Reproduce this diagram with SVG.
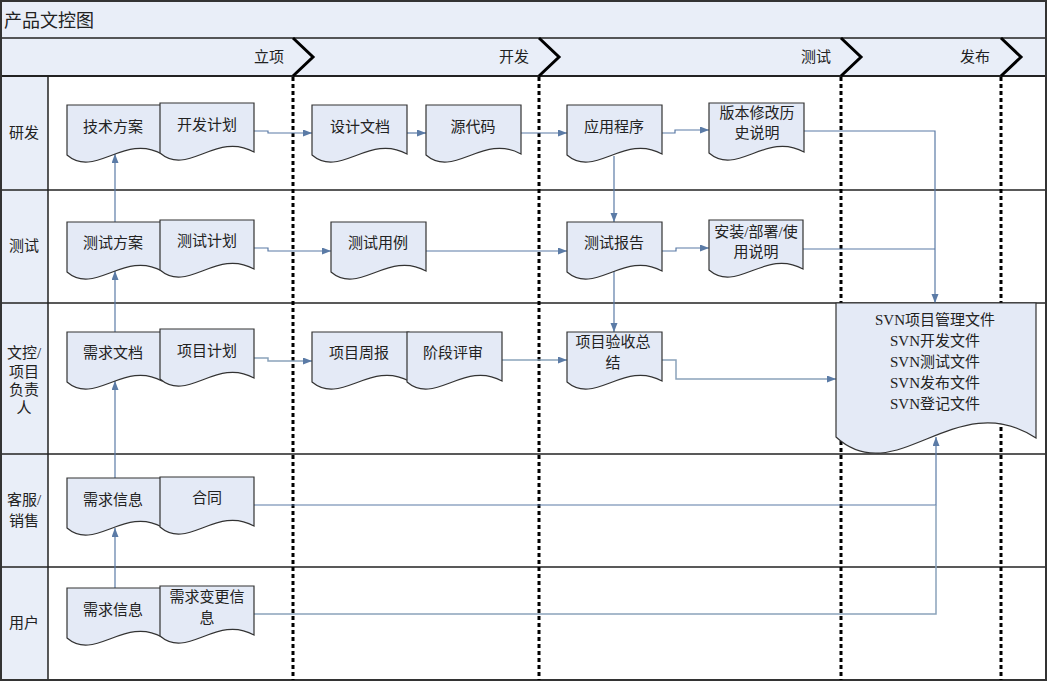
<svg xmlns="http://www.w3.org/2000/svg" width="1048" height="683" viewBox="0 0 1048 683">
<style>
.t{font-family:"Liberation Serif","Noto Sans CJK SC",serif;font-size:15px;fill:#222;text-anchor:middle}
.lt{font-family:"Liberation Serif","Noto Sans CJK SC",serif;font-size:15px;fill:#222;text-anchor:middle}
.ph{font-family:"Liberation Serif","Noto Sans CJK SC",serif;font-size:15px;fill:#222;text-anchor:end}
.doc{fill:#e4eaf6;stroke:#333;stroke-width:1.2}
.band{fill:#e9eef8}
.sep{stroke:#222;stroke-width:1.5;fill:none}
.chev{stroke:#000;stroke-width:3;fill:none}
.dot{stroke:#000;stroke-width:3;stroke-dasharray:4 3;fill:none}
.c{stroke:#5b7ba6;stroke-width:1.2;fill:none}
.c2{stroke:#8aa3ba;stroke-width:1.5;fill:none}
</style>
<defs>
<marker id="ar" markerUnits="userSpaceOnUse" markerWidth="10" markerHeight="8" refX="9" refY="3.5" orient="auto">
<path d="M0,0 L9,3.5 L0,7 z" fill="#5b7ba6"/>
</marker>
</defs>
<g id="frame">
<rect x="1" y="1" width="1045" height="679" fill="#fff"/>
<rect class="band" x="1" y="1" width="1045" height="37"/>
<rect class="band" x="1" y="38" width="1045" height="38"/>
<rect class="band" x="1" y="76" width="47" height="604"/>
<line class="sep" x1="1" y1="38" x2="1046" y2="38"/>
<line class="sep" x1="1" y1="76" x2="1046" y2="76" style="stroke-width:2"/>
<line class="sep" x1="48" y1="76" x2="48" y2="680"/>
<line class="sep" x1="1" y1="190" x2="1046" y2="190"/>
<line class="sep" x1="1" y1="303" x2="1046" y2="303"/>
<line class="sep" x1="1" y1="454" x2="1046" y2="454"/>
<line class="sep" x1="1" y1="567" x2="1046" y2="567"/>
<rect x="1" y="1" width="1045" height="679" fill="none" stroke="#333" stroke-width="2"/>
<text x="4" y="27" style="font-family:'Liberation Serif','Noto Sans CJK SC',serif;font-size:18px;fill:#222">产品文控图</text>
</g>
<g id="phases">
<polyline class="chev" points="293,38 313,57 293,76"/>
<polyline class="chev" points="539,38 559,57 539,76"/>
<polyline class="chev" points="841,38 861,57 841,76"/>
<polyline class="chev" points="1001,38 1021,57 1001,76"/>
<text class="ph" x="284" y="62">立项</text>
<text class="ph" x="529" y="62">开发</text>
<text class="ph" x="831" y="62">测试</text>
<text class="ph" x="990" y="62">发布</text>
<line class="dot" x1="293" y1="77" x2="293" y2="680"/>
<line class="dot" x1="539" y1="77" x2="539" y2="680"/>
<line class="dot" x1="841" y1="77" x2="841" y2="680"/>
<line class="dot" x1="1001" y1="77" x2="1001" y2="680"/>
</g>
<g id="lanes">
<text class="lt" x="24" y="138">研发</text>
<text class="lt" x="24" y="251">测试</text>
<text class="lt" x="24" y="358">文控/</text>
<text class="lt" x="24" y="377">项目</text>
<text class="lt" x="24" y="395">负责</text>
<text class="lt" x="24" y="413">人</text>
<text class="lt" x="24" y="505">客服/</text>
<text class="lt" x="24" y="526">销售</text>
<text class="lt" x="24" y="628">用户</text>
</g>
<g id="connectors">
<path class="c" d="M254,131 H268 V133 H312" marker-end="url(#ar)"/>
<path class="c" d="M407,133 H426" marker-end="url(#ar)"/>
<path class="c" d="M521,133 H567" marker-end="url(#ar)"/>
<path class="c" d="M662,133 H675 V130 H709" marker-end="url(#ar)"/>
<path class="c" d="M804,131 H935 V303" marker-end="url(#ar)"/>
<path class="c" d="M614,156 V222" marker-end="url(#ar)"/>
<path class="c" d="M115,222 V154" marker-end="url(#ar)"/>
<path class="c" d="M254,248 H268 V251 H331" marker-end="url(#ar)"/>
<path class="c" d="M426,251 H567" marker-end="url(#ar)"/>
<path class="c" d="M662,251 H676 V248 H709" marker-end="url(#ar)"/>
<path class="c" d="M803,249 H935"/>
<path class="c" d="M614,271 V332" marker-end="url(#ar)"/>
<path class="c" d="M115,332 V271" marker-end="url(#ar)"/>
<path class="c2" d="M254,358 H268 V361 H312" marker-end="url(#ar)"/>
<path class="c2" d="M502,360 H567" marker-end="url(#ar)"/>
<path class="c2" d="M662,360 H676 V379 H836" marker-end="url(#ar)"/>
<path class="c" d="M115,478 V381" marker-end="url(#ar)"/>
<path class="c" d="M254,505 H936 V437" marker-end="url(#ar)"/>
<path class="c2" d="M254,614 H936 V505"/>
<path class="c" d="M115,588 V528" marker-end="url(#ar)"/>
</g>
<g id="n-jishufangan"><path class="doc" d="M67,105 H162 V154 C124,133 95,179 67,155 Z"/><text class="t" x="113" y="132">技术方案</text></g>
<g id="n-kaifajihua"><path class="doc" d="M160,103 H254 V152 C216,131 188,177 160,153 Z"/><text class="t" x="207" y="130">开发计划</text></g>
<g id="n-shejiwendang"><path class="doc" d="M312,105 H407 V154 C369,133 340,179 312,155 Z"/><text class="t" x="360" y="132">设计文档</text></g>
<g id="n-yuandaima"><path class="doc" d="M426,105 H521 V154 C483,133 454,179 426,155 Z"/><text class="t" x="473" y="132">源代码</text></g>
<g id="n-yingyongchengxu"><path class="doc" d="M567,105 H662 V154 C624,133 595,179 567,155 Z"/><text class="t" x="614" y="132">应用程序</text></g>
<g id="n-banben"><path class="doc" d="M709,103 H804 V152 C766,131 737,177 709,153 Z"/><text class="t" x="757" y="118">版本修改历</text><text class="t" x="757" y="138">史说明</text></g>
<g id="n-ceshifangan"><path class="doc" d="M67,222 H162 V271 C124,250 95,296 67,272 Z"/><text class="t" x="113" y="248">测试方案</text></g>
<g id="n-ceshijihua"><path class="doc" d="M160,220 H254 V269 C216,248 188,294 160,270 Z"/><text class="t" x="207" y="246">测试计划</text></g>
<g id="n-ceshiyongli"><path class="doc" d="M331,222 H426 V271 C388,250 359,296 331,272 Z"/><text class="t" x="378" y="248">测试用例</text></g>
<g id="n-ceshibaogao"><path class="doc" d="M567,222 H662 V271 C624,250 595,296 567,272 Z"/><text class="t" x="614" y="248">测试报告</text></g>
<g id="n-anzhuang"><path class="doc" d="M709,220 H803 V269 C765,248 737,294 709,270 Z"/><text class="t" x="756" y="237">安装/部署/使</text><text class="t" x="756" y="257">用说明</text></g>
<g id="n-xuqiuwendang"><path class="doc" d="M67,332 H162 V381 C124,360 95,406 67,382 Z"/><text class="t" x="113" y="358">需求文档</text></g>
<g id="n-xiangmujihua"><path class="doc" d="M160,329 H254 V378 C216,357 188,403 160,379 Z"/><text class="t" x="207" y="356">项目计划</text></g>
<g id="n-xiangmuzhoubao"><path class="doc" d="M312,332 H409 V381 C370,360 341,406 312,382 Z"/><text class="t" x="359" y="358">项目周报</text></g>
<g id="n-jieduanpingshen"><path class="doc" d="M407,332 H502 V381 C464,360 435,406 407,382 Z"/><text class="t" x="453" y="358">阶段评审</text></g>
<g id="n-yanshou"><path class="doc" d="M567,332 H662 V381 C624,360 595,406 567,382 Z"/><text class="t" x="613" y="347">项目验收总</text><text class="t" x="613" y="368">结</text></g>
<g id="n-svn"><path class="doc" d="M836,303 H1036 V438 C956,385 896,492 836,437 Z"/>
<text class="t" x="935" y="325">SVN项目管理文件</text>
<text class="t" x="935" y="346">SVN开发文件</text>
<text class="t" x="935" y="367">SVN测试文件</text>
<text class="t" x="935" y="388">SVN发布文件</text>
<text class="t" x="935" y="409">SVN登记文件</text></g>
<g id="n-xuqiuxinxi-kf"><path class="doc" d="M67,478 H162 V527 C124,506 95,552 67,528 Z"/><text class="t" x="113" y="505">需求信息</text></g>
<g id="n-hetong"><path class="doc" d="M160,477 H254 V526 C216,505 188,551 160,527 Z"/><text class="t" x="207" y="503">合同</text></g>
<g id="n-xuqiuxinxi-yh"><path class="doc" d="M67,588 H162 V637 C124,616 95,662 67,638 Z"/><text class="t" x="113" y="615">需求信息</text></g>
<g id="n-biangeng"><path class="doc" d="M160,586 H254 V635 C216,614 188,660 160,636 Z"/><text class="t" x="207" y="602">需求变更信</text><text class="t" x="207" y="623">息</text></g>
</svg>
